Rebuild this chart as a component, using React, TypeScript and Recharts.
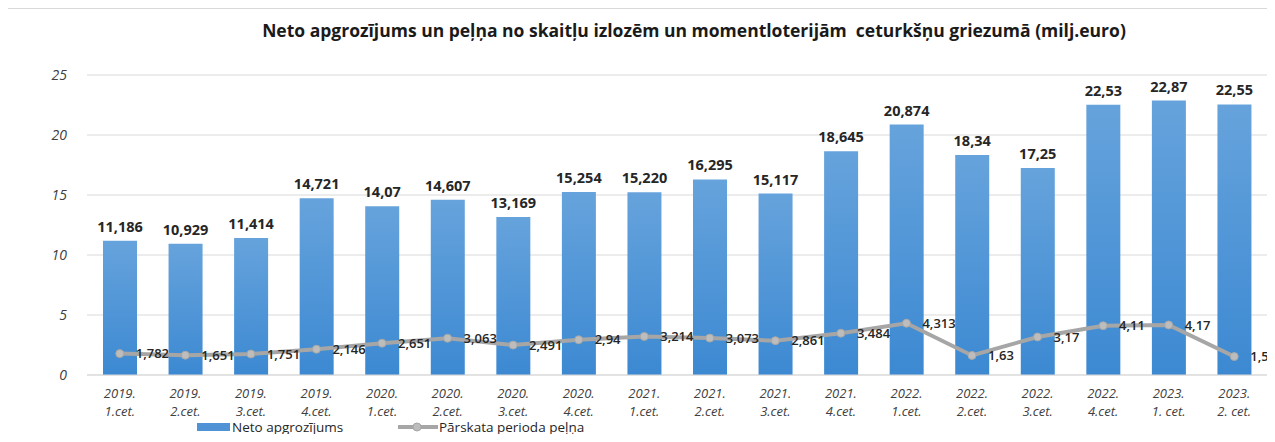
import React from "react";
import {
  ComposedChart,
  Bar,
  Line,
  XAxis,
  YAxis,
  CartesianGrid,
  LabelList,
} from "recharts";

const categories = [
  "2019. 1.cet.", "2019. 2.cet.", "2019. 3.cet.", "2019. 4.cet.",
  "2020. 1.cet.", "2020. 2.cet.", "2020. 3.cet.", "2020. 4.cet.",
  "2021. 1.cet.", "2021. 2.cet.", "2021. 3.cet.", "2021. 4.cet.",
  "2022. 1.cet.", "2022. 2.cet.", "2022. 3.cet.", "2022. 4.cet.",
  "2023. 1. cet.", "2023. 2. cet.",
];

const revenue = [
  11.186, 10.929, 11.414, 14.721, 14.07, 14.607, 13.169, 15.254, 15.22,
  16.295, 15.117, 18.645, 20.874, 18.34, 17.25, 22.53, 22.87, 22.55,
];
const revenueLabels = [
  "11,186", "10,929", "11,414", "14,721", "14,07", "14,607", "13,169", "15,254", "15,220",
  "16,295", "15,117", "18,645", "20,874", "18,34", "17,25", "22,53", "22,87", "22,55",
];

const profit = [
  1.782, 1.651, 1.751, 2.146, 2.651, 3.063, 2.491, 2.94, 3.214, 3.073,
  2.861, 3.484, 4.313, 1.63, 3.17, 4.11, 4.17, 1.54,
];
const profitLabels = [
  "1,782", "1,651", "1,751", "2,146", "2,651", "3,063", "2,491", "2,94", "3,214", "3,073",
  "2,861", "3,484", "4,313", "1,63", "3,17", "4,11", "4,17", "1,54",
];

const yTicks = [0, 5, 10, 15, 20, 25];

const title =
  "Neto apgrozījums un peļņa no skaitļu izlozēm un momentloterijām  ceturkšņu griezumā (milj.euro)";
const seriesNames = ["Neto apgrozījums", "Pārskata perioda peļņa"];

const data = categories.map((c, i) => ({
  cat: c,
  revenue: revenue[i],
  revenueLabel: revenueLabels[i],
  profit: profit[i],
  profitLabel: profitLabels[i],
}));

const FONT = "'Open Sans', 'DejaVu Sans', sans-serif";

const XTick = (props: any) => {
  const { x, y, payload } = props;
  const s: string = payload.value;
  const idx = s.indexOf(" ");
  const l1 = s.slice(0, idx);
  const l2 = s.slice(idx + 1);
  return (
    <g transform={`translate(${x},${y})`}>
      <text
        textAnchor="middle"
        fontFamily={FONT}
        fontStyle="italic"
        fontSize={13}
        fill="#404040"
      >
        <tspan x={0} y={15}>{l1}</tspan>
        <tspan x={0} y={33}>{l2}</tspan>
      </text>
    </g>
  );
};

export default function App() {
  return (
    <div style={{ position: "relative", margin: -8, width: 1275, height: 442, background: "#fff", overflow: "hidden" }}>
      <div
        style={{
          position: "absolute",
          left: 6,
          top: 8,
          width: 1290,
          height: 460,
          borderLeft: "1px solid #d9d9d9",
          borderTop: "1px solid #d9d9d9",
        }}
      />
      <div
        style={{
          position: "absolute",
          left: 0,
          width: 1388,
          top: 18,
          textAlign: "center",
          fontFamily: FONT,
          fontWeight: 700,
          fontSize: 17.5,
          color: "#1a1a1a",
          whiteSpace: "pre",
        }}
      >
        {title}
      </div>
      <ComposedChart
        width={1275}
        height={442}
        data={data}
        margin={{ top: 75, right: 8, bottom: 0, left: 0 }}
        style={{ position: "absolute", left: 0, top: 0 }}
      >
        <defs>
          <linearGradient id="barGrad" x1="0" y1="0" x2="0" y2="1">
            <stop offset="0%" stopColor="#66a3dc" />
            <stop offset="100%" stopColor="#3c89d2" />
          </linearGradient>
        </defs>
        <CartesianGrid vertical={false} stroke="#d9d9d9" strokeWidth={1} />
        <XAxis
          dataKey="cat"
          height={67}
          tick={<XTick />}
          tickLine={false}
          axisLine={{ stroke: "#d9d9d9" }}
          interval={0}
        />
        <YAxis
          width={87}
          domain={[0, 25]}
          ticks={yTicks}
          tickLine={false}
          axisLine={false}
          tickMargin={14}
          tick={{ fontFamily: FONT, fontStyle: "italic", fontSize: 14, fill: "#404040" }}
        />
        <Bar dataKey="revenue" fill="url(#barGrad)" barSize={34} isAnimationActive={false} name={seriesNames[0]}>
          <LabelList
            dataKey="revenueLabel"
            position="top"
            offset={9}
            style={{ fontFamily: FONT, fontWeight: 700, fontSize: 14.5, fill: "#262626" }}
          />
        </Bar>
        <Line
          dataKey="profit"
          stroke="#a6a6a6"
          strokeWidth={4}
          dot={{ r: 4, fill: "#bdbdbd", stroke: "#a6a6a6", strokeWidth: 1 }}
          isAnimationActive={false}
          name={seriesNames[1]}
        >
          <LabelList
            dataKey="profitLabel"
            position="right"
            offset={16}
            style={{ fontFamily: FONT, fontWeight: 600, fontSize: 13, fill: "#262626" }}
          />
        </Line>
      </ComposedChart>
      <div style={{ position: "absolute", left: 0, top: 419, width: 1275, height: 16, fontFamily: FONT, fontSize: 13.5, color: "#262626" }}>
        <div style={{ position: "absolute", left: 197, top: 4, width: 33, height: 8, background: "#4f93d6" }} />
        <div style={{ position: "absolute", left: 232, top: 0, lineHeight: "16px" }}>{seriesNames[0]}</div>
        <svg style={{ position: "absolute", left: 396, top: 0 }} width={44} height={16}>
          <line x1={2} y1={8} x2={42} y2={8} stroke="#a6a6a6" strokeWidth={4} />
          <circle cx={21} cy={8} r={4} fill="#bdbdbd" stroke="#a6a6a6" />
        </svg>
        <div style={{ position: "absolute", left: 439, top: 0, lineHeight: "16px" }}>{seriesNames[1]}</div>
      </div>
    </div>
  );
}
